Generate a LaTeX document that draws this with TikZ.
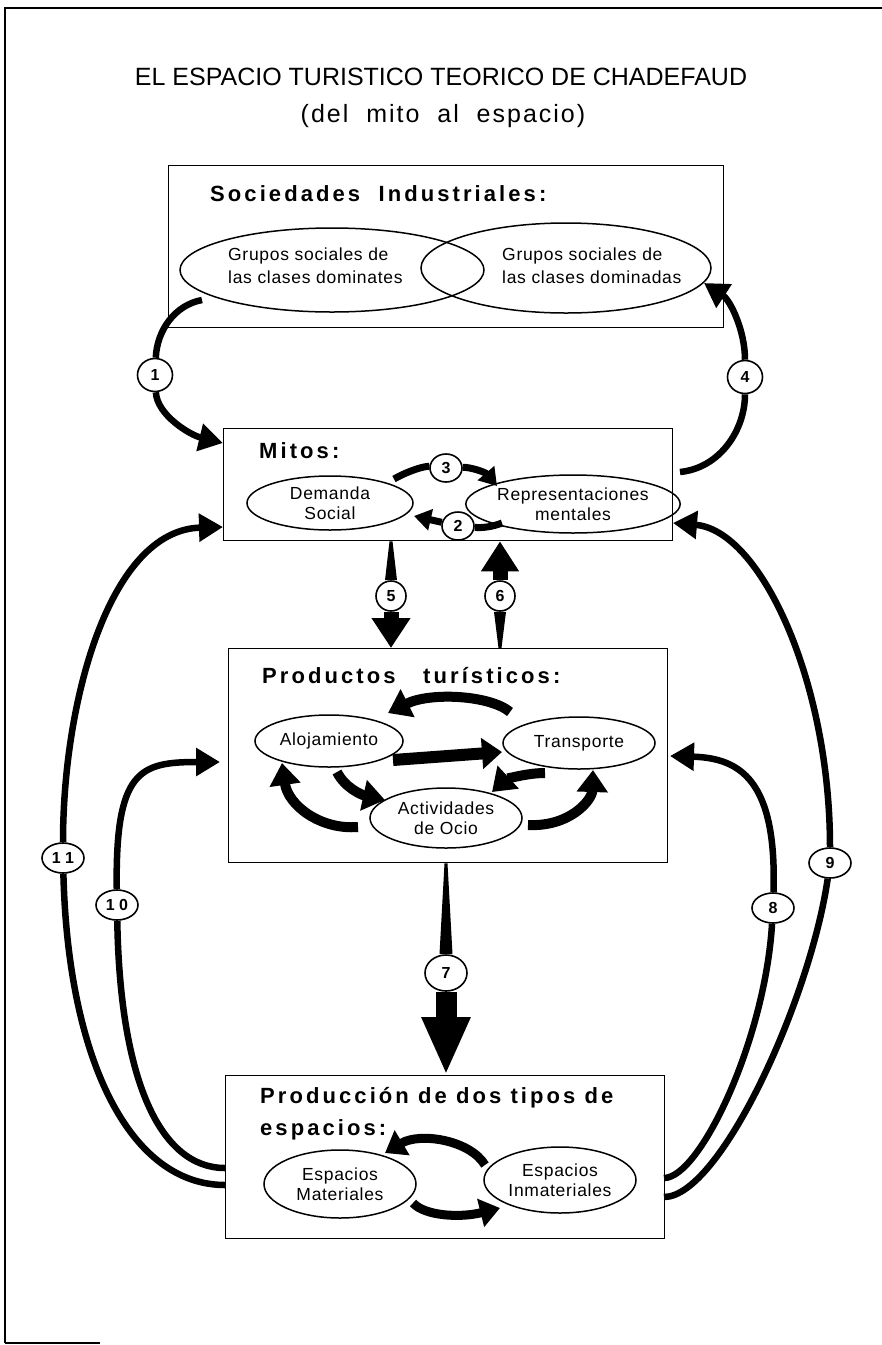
\documentclass[tikz,border=0pt]{standalone}
\usepackage{fontspec}
\setmainfont{Liberation Sans}
\newfontfamily\headfont[LetterSpace=14]{Liberation Sans}
\newfontfamily\ovalfont[LetterSpace=4]{Liberation Sans}
\newfontfamily\subfont[LetterSpace=8]{Liberation Sans}
\usetikzlibrary{arrows.meta,shapes.geometric}

\tikzset{
  box/.style={draw, line width=1.3pt, anchor=north west, inner sep=0pt},
  boxhead/.style={anchor=base west, inner sep=0pt, font=\headfont\bfseries\fontsize{22}{28}\selectfont},
  oval/.style={draw, ellipse, line width=1.5pt, inner sep=0pt, align=center,
    font=\ovalfont\fontsize{17.5}{20}\selectfont},
  ovaltext/.style={inner sep=0pt, align=left, anchor=west, font=\ovalfont\fontsize{17.5}{23}\selectfont},
  numcirc/.style={draw, ellipse, fill=white, line width=1.6pt, inner sep=0pt,
    minimum width=32pt, minimum height=30pt, font=\bfseries\fontsize{16}{16}\selectfont},
  flow/.style={line width=6.5pt, -{Triangle[length=24pt,width=27pt]}},
  plainflow/.style={line width=6.5pt},
  cyc/.style={line width=10pt, -{Triangle[length=22pt,width=30pt]}},
  mitoarr/.style={line width=7pt, -{Triangle[length=17pt,width=21pt]}},
}

\begin{document}
\begin{tikzpicture}[x=1pt,y=1pt]
\useasboundingbox (0,0) rectangle (882,-1345);

% marco
\draw[line width=1.2pt] (5,-1343) -- (5,-8) -- (882,-8);
\draw[line width=1.2pt] (5,-1343) -- (100,-1343);

% titulo
\node[font=\fontsize{25}{30}\selectfont] (titulo) at (441,-77) {EL ESPACIO TURISTICO TEORICO DE CHADEFAUD};
\node[font=\subfont\fontsize{25}{30}\selectfont] (subtitulo) at (443,-116) {(del\ \ mito\ \ al\ \ espacio)};

% cajas
\node[box, minimum width=555pt, minimum height=162pt] (soc) at (168,-165) {};
\node[box, minimum width=449pt, minimum height=112pt] (mitos) at (223,-428) {};
\node[box, minimum width=439pt, minimum height=214pt] (prod) at (228,-648) {};
\node[box, minimum width=439pt, minimum height=163pt] (espa) at (225,-1075) {};

\node[boxhead] at (210,-201) {Sociedades\ \ Industriales:};
\node[boxhead] at (259,-458) {Mitos:};
\node[boxhead] at (262,-683) {Productos\ \ \ turísticos:};
\node[boxhead] at (260,-1103) {Producción de dos tipos de};
\node[boxhead] at (260,-1135) {espacios:};

% sociedades
\node[oval, minimum width=304pt, minimum height=84pt] (dominantes) at (332,-270) {};
\node[oval, minimum width=290pt, minimum height=90pt] (dominadas) at (566,-268) {};
\node[ovaltext] (tdominantes) at (228,-266) {Grupos sociales de\\las clases dominates};
\node[ovaltext] (tdominadas) at (502,-266) {Grupos sociales de\\las clases dominadas};

% mitos
\node[oval, minimum width=166pt, minimum height=54pt] (demanda) at (330,-503) {Demanda\\Social};
\node[oval, minimum width=171pt, minimum height=58pt] (repres) at (573,-504) {Representaciones\\mentales};

% productos
\node[oval, minimum width=148pt, minimum height=52pt] (aloj) at (329,-741) {Alojamiento};
\node[oval, minimum width=152pt, minimum height=52pt] (transp) at (579,-743) {Transporte};
\node[oval, minimum width=152pt, minimum height=60pt] (activ) at (446,-818) {Actividades\\de Ocio};

% espacios
\node[oval, minimum width=152pt, minimum height=68pt] (mater) at (340,-1184) {Espacios\\Materiales};
\node[oval, minimum width=152pt, minimum height=66pt] (inmat) at (560,-1180) {Espacios\\Inmateriales};

% numeros
\node[numcirc, minimum width=35pt, minimum height=33pt] (n1) at (155,-375) {1};
\node[numcirc, minimum width=35pt, minimum height=33pt] (n4) at (745,-377) {4};
\node[numcirc, minimum height=28pt] (n3) at (446,-468) {3};
\node[numcirc, minimum height=28pt] (n2) at (458,-526) {2};
\node[numcirc, minimum width=30pt] (n5) at (391,-596) {5};
\node[numcirc, minimum width=30pt] (n6) at (500,-596) {6};
\node[numcirc, minimum width=42pt, minimum height=36pt] (n7) at (446,-973) {7};
\node[numcirc, minimum width=42pt] (n8) at (773,-908) {8};
\node[numcirc, minimum width=42pt] (n9) at (830,-863) {9};
\node[numcirc, minimum width=42pt] (n10) at (117,-905) {1 0};
\node[numcirc, minimum width=42pt] (n11) at (63,-858) {1 1};

% extremos libres
\coordinate (a1s) at (202,-300);
\coordinate (a1e) at (223,-443);
\coordinate (a4s) at (680,-472);
\coordinate (a4e) at (704,-283);
\coordinate (a3s) at (394,-479);
\coordinate (a3e) at (497,-486);
\coordinate (a2s) at (502,-523);
\coordinate (a2e) at (414,-516);
\coordinate (a11e) at (223,-527);
\coordinate (a11s) at (225,-1185);
\coordinate (a10e) at (220,-762);
\coordinate (a10s) at (225,-1168);
\coordinate (a9e) at (673,-523);
\coordinate (a9s) at (664,-1197);
\coordinate (a8e) at (670,-756);
\coordinate (a8s) at (664,-1178);
\coordinate (ta1) at (510,-712);
\coordinate (ta2) at (388,-713);
\coordinate (at1) at (393,-760);
\coordinate (at2) at (502,-752);
\coordinate (aa1) at (337,-772);
\coordinate (aa2) at (385,-800);
\coordinate (ca1) at (358,-827);
\coordinate (ca2) at (282,-763);
\coordinate (tc1) at (545,-773);
\coordinate (tc2) at (492,-792);
\coordinate (ct1) at (528,-825);
\coordinate (ct2) at (593,-770);
\coordinate (im1) at (485,-1165);
\coordinate (im2) at (385,-1153);
\coordinate (mi1) at (413,-1203);
\coordinate (mi2) at (500,-1208);

% 1 y 4
\draw[plainflow] (a1s) .. controls (175,-305) and (157,-330) .. (n1);
\draw[flow] (n1) .. controls (157,-415) and (190,-435) .. (a1e);
\draw[plainflow] (a4s) .. controls (720,-468) and (745,-430) .. (n4);
\draw[flow] (n4) .. controls (745,-330) and (730,-300) .. (a4e);

% 3 y 2
\draw[line width=7pt] (a3s) .. controls (410,-470) and (425,-466) .. (n3);
\draw[mitoarr] (n3) .. controls (470,-467) and (485,-472) .. (a3e);
\draw[line width=7pt] (a2s) .. controls (492,-527) and (482,-528) .. (n2);
\draw[mitoarr] (n2) -- (a2e);

% 5 y 6
\fill (mitos.south -| n5) ++(-1.5,0) -- ++(3,0) -- ([xshift=6pt]n5.north) -- ([xshift=-6pt]n5.north) -- cycle;
\draw[line width=15pt, -{Triangle[length=30pt,width=37pt]}] (n5) -- (n5 |- prod.north);
\fill (prod.north -| n6) ++(-1.5,0) -- ++(3,0) -- ([xshift=6pt]n6.south) -- ([xshift=-6pt]n6.south) -- cycle;
\draw[line width=15pt, -{Triangle[length=30pt,width=36pt]}] (n6) -- (n6 |- mitos.south);

% 7
\fill (prod.south -| n7) ++(-1.5,0) -- ++(3,0) -- ([xshift=6.5pt]n7.north) -- ([xshift=-6.5pt]n7.north) -- cycle;
\draw[line width=21pt, -{Triangle[length=58pt,width=45pt]}] (n7) -- (n7 |- espa.north);

% productos turisticos
\draw[cyc] (ta1) .. controls (490,-695) and (430,-692) .. (ta2);
\draw[line width=12pt, -{Triangle[length=20pt,width=30pt]}] (at1) -- (at2);
\draw[cyc] (aa1) .. controls (345,-788) and (362,-795) .. (aa2);
\draw[cyc] (ca1) .. controls (320,-830) and (288,-805) .. (ca2);
\draw[cyc] (tc1) .. controls (525,-773) and (505,-780) .. (tc2);
\draw[cyc] (ct1) .. controls (570,-827) and (592,-800) .. (ct2);

% espacios
\draw[line width=9pt, -{Triangle[length=20pt,width=28pt]}] (im1) .. controls (470,-1140) and (420,-1132) .. (im2);
\draw[line width=9pt, -{Triangle[length=20pt,width=28pt]}] (mi1) .. controls (425,-1216) and (460,-1218) .. (mi2);

% 8 a 11
\draw[plainflow] (a11s) .. controls (130,-1185) and (68,-1060) .. (n11);
\draw[flow] (n11) .. controls (63,-700) and (110,-530) .. (a11e);
\draw[plainflow] (a10s) .. controls (160,-1168) and (120,-1080) .. (n10);
\draw[flow] (n10) .. controls (115,-770) and (140,-762) .. (a10e);
\draw[plainflow] (a9s) .. controls (720,-1197) and (810,-1000) .. (n9);
\draw[flow] (n9) .. controls (830,-680) and (760,-530) .. (a9e);
\draw[plainflow] (a8s) .. controls (700,-1178) and (765,-1040) .. (n8);
\draw[flow] (n8) .. controls (777,-780) and (740,-758) .. (a8e);
\end{tikzpicture}
\end{document}
